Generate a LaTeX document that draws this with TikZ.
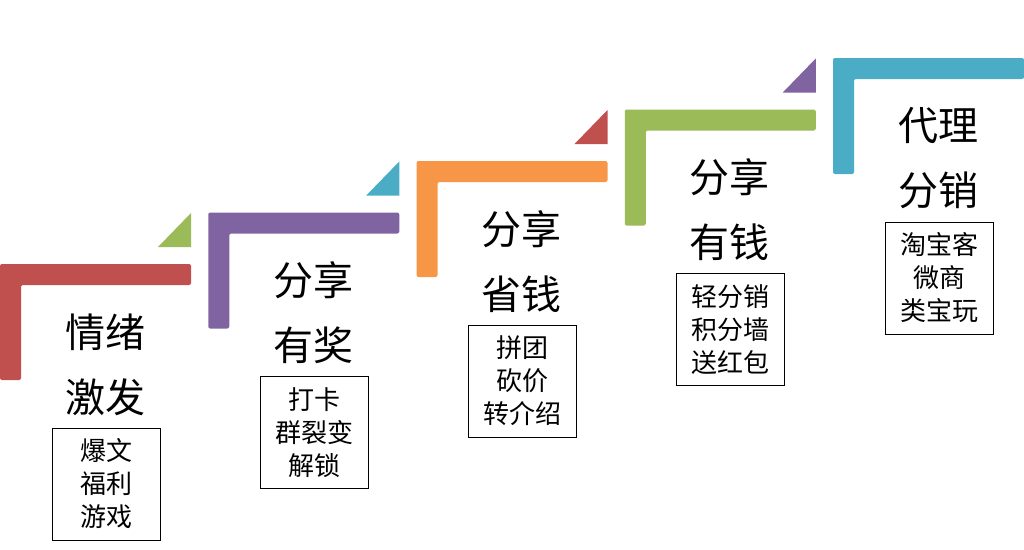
\documentclass[tikz,border=0pt]{standalone}
\usepackage{fontspec}
\setmainfont{Noto Sans CJK SC}
\definecolor{stepred}{HTML}{C0504D}
\definecolor{steppurple}{HTML}{8064A2}
\definecolor{steporange}{HTML}{F79646}
\definecolor{stepgreen}{HTML}{9BBB59}
\definecolor{stepblue}{HTML}{4BACC6}
\tikzstyle{stair}=[rounded corners=2pt]
\tikzstyle{title}=[align=center,inner sep=0,font=\fontsize{40}{65}\selectfont]
\tikzstyle{itembox}=[draw,line width=1pt,align=center,minimum width=108,minimum height=112,inner sep=0,font=\fontsize{26}{33}\selectfont]

\begin{document}
\begin{tikzpicture}[x=1pt,y=-1pt]
\useasboundingbox (0,0) rectangle (1024,549);

\foreach \i/\col/\lineA/\lineB/\items in {0/stepred/情绪/激发/{爆文\\福利\\游戏},1/steppurple/分享/有奖/{打卡\\群裂变\\解锁},2/steporange/分享/省钱/{拼团\\砍价\\转介绍},3/stepgreen/分享/有钱/{轻分销\\积分墙\\送红包},4/stepblue/代理/分销/{淘宝客\\微商\\类宝玩}}{
	\pgfmathsetmacro{\xo}{208.25*\i}
	\pgfmathsetmacro{\yo}{264-51.5*\i}
	\fill[stair,\col] (\xo,\yo+116) -- (\xo,\yo) -- (\xo+191,\yo) -- (\xo+191,\yo+21) -- (\xo+21,\yo+21) -- (\xo+21,\yo+116) -- cycle;
	\node[title] (title\i) at (\xo+105,\yo+100.5) {\lineA\\\lineB};
	\node[itembox] (items\i) at (\xo+106,\yo+220) {\items};
	}

% small corner triangles
\foreach \i/\col in {0/stepgreen,1/stepblue,2/stepred,3/steppurple}{
	\pgfmathsetmacro{\xo}{208.25*\i}
	\pgfmathsetmacro{\yo}{264-51.5*\i}
	\fill[\col] (\xo+158,\yo-17) -- (\xo+191,\yo-17) -- (\xo+191,\yo-51) -- cycle;
	}

\end{tikzpicture}
\end{document}
